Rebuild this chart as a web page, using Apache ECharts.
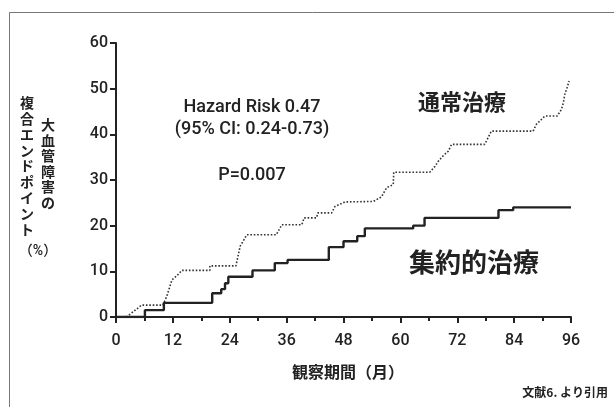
<!DOCTYPE html>
<html>
<head>
<meta charset="utf-8">
<script src="https://cdn.jsdelivr.net/npm/echarts@6/dist/echarts.min.js"></script>
<style>html,body{margin:0;padding:0;background:#fff}#c{width:614px;height:407px}</style>
</head>
<body>
<div id="c"></div>
<script>
var xTicks = [0, 12, 24, 36, 48, 60, 72, 84, 96];
var yTicks = [0, 10, 20, 30, 40, 50, 60];
// 集約的治療 (solid, Kaplan-Meier steps): [month, %]
var intensive = [[0,0],[6.1,1.5],[10.1,3.1],[20.3,5.2],[22.2,6.1],[23.0,7.4],[23.7,8.8],[28.8,10.2],[33.5,11.8],[36.2,12.5],[44.9,15.3],[48.0,16.6],[50.9,17.7],[52.5,19.4],[62.7,20.0],[65.1,21.7],[80.7,23.4],[83.8,24.0],[96,24.0]];
// 通常治療 (dotted): [month, %]
var conventional = [[0,0],[2.2,0],[5.4,2.6],[9.9,2.6],[10.7,4.5],[11.8,8.1],[12.8,9.0],[13.9,10.2],[19.8,10.2],[19.8,11.2],[25.3,11.2],[26.2,15.5],[27.6,18.0],[33.8,18.0],[35.0,20.2],[39.2,20.2],[39.7,21.7],[42.3,21.7],[42.6,22.8],[45.5,22.8],[46.2,24.2],[48.3,25.2],[54.3,25.3],[56.0,26.3],[57.1,28.3],[58.5,29.0],[58.6,31.7],[66.2,31.7],[67.3,33.0],[68.0,34.1],[69.1,35.4],[70.1,36.3],[70.8,37.8],[77.8,37.8],[79.2,40.7],[88.0,40.7],[88.7,42.2],[89.8,43.3],[90.5,44.0],[93.1,44.0],[94.0,45.5],[94.4,47.0],[94.7,48.8],[95.2,50.3],[95.6,51.7]];

var FONT = '"Noto Sans CJK JP", "Noto Sans", sans-serif';
var LFONT = 'Roboto, "Noto Sans CJK JP", sans-serif';
var INK = '#222';
var chart = echarts.init(document.getElementById('c'), null, {renderer: 'canvas'});
chart.setOption({
  animation: false,
  backgroundColor: '#fff',
  grid: {left: 116, right: 43, top: 43, bottom: 90, containLabel: false},
  xAxis: {
    type: 'value', min: xTicks[0], max: xTicks[xTicks.length - 1], interval: 12,
    axisLine: {show: true, lineStyle: {color: INK, width: 2}},
    axisTick: {show: true, length: 6, lineStyle: {color: INK, width: 2}},
    minorTick: {show: true, splitNumber: 2, length: 4, lineStyle: {color: INK, width: 2}},
    splitLine: {show: false},
    axisLabel: {color: INK, fontSize: 16, fontWeight: 500, fontFamily: LFONT, margin: 16,
      formatter: function (v) { return xTicks.indexOf(v) >= 0 ? String(v) : ''; }}
  },
  yAxis: {
    type: 'value', min: yTicks[0], max: yTicks[yTicks.length - 1], interval: 10,
    axisLine: {show: true, lineStyle: {color: INK, width: 2}},
    axisTick: {show: true, length: 6, lineStyle: {color: INK, width: 2}},
    splitLine: {show: false},
    axisLabel: {color: INK, fontSize: 16, fontWeight: 500, fontFamily: LFONT, margin: 8,
      formatter: function (v) { return yTicks.indexOf(v) >= 0 ? String(v) : ''; }}
  },
  series: [
    {
      name: '通常治療', type: 'line', data: conventional, showSymbol: false, symbol: 'none',
      lineStyle: {color: '#333', width: 1.6, type: [1.6, 1.8]}, z: 2
    },
    {
      name: '集約的治療', type: 'line', step: 'end', data: intensive, showSymbol: false, symbol: 'none',
      lineStyle: {color: INK, width: 2.4}, z: 3
    }
  ],
  graphic: [
    {type: 'rect', shape: {x: 9.5, y: 12.5, width: 640, height: 440}, style: {fill: 'none', stroke: '#777', lineWidth: 1}, silent: true},
    {type: 'text', x: 252, y: 107, scaleX: 0.95, style: {text: 'Hazard Risk 0.47', font: '500 19px ' + LFONT, fill: INK, textAlign: 'center', textVerticalAlign: 'middle'}},
    {type: 'text', x: 252, y: 129, scaleX: 0.95, style: {text: '(95% CI: 0.24-0.73)', font: '500 19px ' + LFONT, fill: INK, textAlign: 'center', textVerticalAlign: 'middle'}},
    {type: 'text', x: 252, y: 175, scaleX: 0.95, style: {text: 'P=0.007', font: '500 19px ' + LFONT, fill: INK, textAlign: 'center', textVerticalAlign: 'middle'}},
    {type: 'text', x: 462, y: 102, style: {text: '通常治療', font: 'bold 22px ' + FONT, fill: INK, textAlign: 'center', textVerticalAlign: 'middle'}},
    {type: 'text', x: 474, y: 262, style: {text: '集約的治療', font: 'bold 26px ' + FONT, fill: INK, textAlign: 'center', textVerticalAlign: 'middle'}},
    {type: 'text', x: 348, y: 372, style: {text: '観察期間（月）', font: 'bold 16px ' + FONT, fill: INK, textAlign: 'center', textVerticalAlign: 'middle'}},
    {type: 'text', x: 608, y: 392, style: {text: '文献6. より引用', font: 'bold 12px ' + FONT, fill: INK, textAlign: 'right', textVerticalAlign: 'middle'}},
    {type: 'text', x: 27, y: 95, style: {text: '複\n合\nエ\nン\nド\nポ\nイ\nン\nト', font: 'bold 14px ' + FONT, lineHeight: 15.8, fill: INK, textAlign: 'center', textVerticalAlign: 'top'}},
    {type: 'text', x: 48, y: 117, style: {text: '大\n血\n管\n障\n害\nの', font: 'bold 14px ' + FONT, lineHeight: 15.5, fill: INK, textAlign: 'center', textVerticalAlign: 'top'}},
    {type: 'text', x: 38, y: 251, style: {text: '（%）', font: '500 14px ' + LFONT, fill: INK, textAlign: 'center', textVerticalAlign: 'middle'}}
  ]
});
</script>
</body>
</html>
